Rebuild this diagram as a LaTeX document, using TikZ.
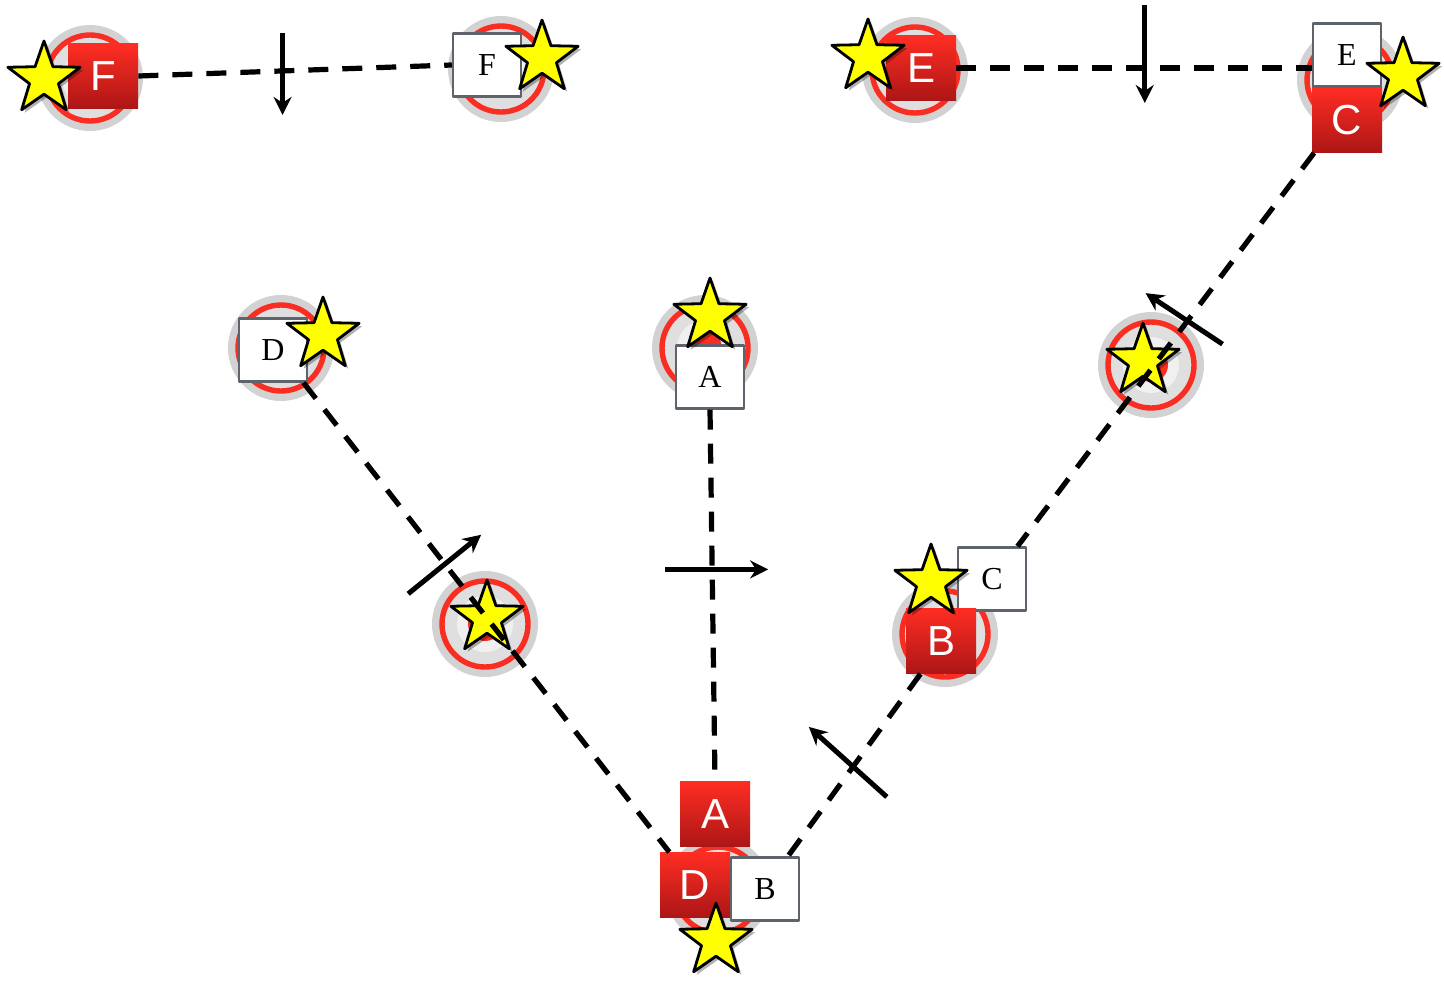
\documentclass[tikz,border=0pt]{standalone}
\usepackage{fontspec}
\setmainfont{Liberation Serif}
\newfontfamily\tagfont{Liberation Sans}
\usetikzlibrary{shapes.geometric,shadows,arrows.meta}
\definecolor{boxtop}{RGB}{255,45,35}
\definecolor{boxbot}{RGB}{172,22,22}
\definecolor{boxrim}{RGB}{95,100,108}
\definecolor{halo}{RGB}{210,210,210}
\definecolor{ringred}{RGB}{250,45,35}
\definecolor{starfill}{RGB}{255,255,0}
\begin{document}
\begin{tikzpicture}[x=0.5pt,y=-0.5pt,line join=round,>={Stealth[length=9pt,width=9pt]},
	redbox/.style={rectangle,inner sep=0pt,minimum width=35pt,minimum height=32.5pt,
		top color=boxtop,bottom color=boxbot,text=white,font=\tagfont\fontsize{21}{21}\selectfont},
	whitebox/.style={rectangle,inner sep=0pt,minimum width=34pt,minimum height=31.5pt,
		draw=boxrim,line width=1.2pt,fill=white,font=\fontsize{16}{16}\selectfont},
	starmark/.style={star,star points=5,star point ratio=2.5,minimum size=38pt,inner sep=0pt,
		draw=black,line width=1.4pt,fill=starfill,
		drop shadow={shadow xshift=1.5pt,shadow yshift=-1.5pt,opacity=.3,fill=black}},
	dashline/.style={line width=2.6pt,dash pattern=on 10pt off 7pt},
	flow/.style={->,line width=2.5pt}]
	\useasboundingbox (0,0) rectangle (1444,980);
	% targets
	\foreach \x/\y in {90/78,501/69,915/70,1350/80,281/348,705/348,1151/365,485/624,945/634,718/890}{
		\fill[halo] (\x,\y) circle (26.5pt);
		\draw[ringred,line width=2.7pt,fill=gray!25] (\x,\y) circle (21.5pt);
		\fill[gray!12] (\x,\y) circle (14pt);
		\fill[ringred] (\x,\y) circle (8.5pt);
	}
	% boxes
	\node[redbox] (rF) at (103,76) {F};
	\node[whitebox] (wF) at (487,65) {F};
	\node[redbox] (rE) at (921,68) {E};
	\node[redbox] (rC) at (1347,120) {C};
	\node[whitebox] (wE) at (1347,55) {E};
	\node[whitebox] (wD) at (273,350) {D};
	\node[whitebox] (wA) at (710,377) {A};
	\node[whitebox] (wC) at (992,579) {C};
	\node[redbox] (rB) at (941,641) {B};
	\node[redbox] (rA) at (715,814) {A};
	\node[redbox] (rD) at (695,885) {D};
	\node[whitebox] (wB) at (765,889) {B};
	% stars
	\foreach \x/\y [count=\i] in {44/79,542/58,868/57,1403/75,323/335,710/316,1143/361,487/618,931/582,716/941}
		\node[starmark] (s\i) at (\x,\y) {};
	% paths
	\draw[dashline] (rF.east) -- coordinate[pos=.46] (mF) (wF.west);
	\draw[dashline] (rE.east) -- coordinate[pos=.53] (mE) (rE.east -| wE.west);
	\draw[dashline] (wD.-47) -- coordinate[pos=.39] (mD) (rD.128);
	\draw[dashline] (wA.south) -- coordinate[pos=.43] (mA) (rA.north);
	\draw[dashline] (rB.238) -- coordinate[pos=.51] (mB) (wB.55);
	\draw[dashline] (rC.225) -- coordinate[pos=.42] (mC) (wC.52);
	% crossing arrows
	\draw[flow] (mF) ++(0,-38) -- ++(0,82);
	\draw[flow] (mE) ++(0,-63) -- ++(0,98);
	\draw[flow] (mD) ++(-38,28) -- ++(73,-59);
	\draw[flow] (mA) ++(-47,0) -- ++(103,0);
	\draw[flow] (mB) ++(34,30) -- ++(-78,-70);
	\draw[flow] (mC) ++(33,26) -- ++(-77,-51);
\end{tikzpicture}
\end{document}
